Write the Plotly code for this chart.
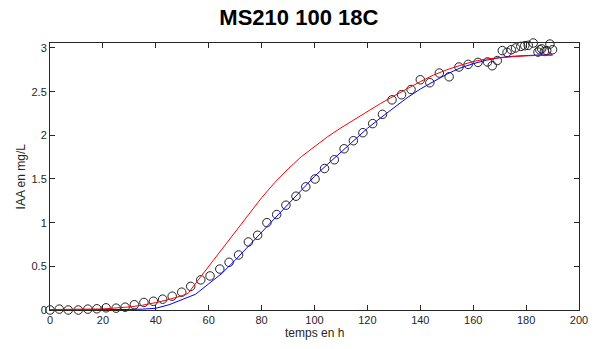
import plotly.graph_objects as go

# Measured data (time in h, IAA in mg/L)
t_data = [0, 3.5, 6.9, 10.7, 14.3, 17.7, 21.2, 25, 28.4, 31.9, 35.5, 39.1, 42.6, 46.2,
          49.8, 53.2, 57, 60.5, 64.2, 67.7, 71.3, 75, 78.5, 82, 85.7, 89.2, 93, 96.7,
          100.2, 103.8, 107.5, 111.2, 114.7, 118.3, 122, 125.7, 129.3, 132.9, 136.5,
          140, 143.6, 147.2, 150.9, 154.6, 158.1, 161.8, 165.4, 167.2, 169.1, 171,
          172.8, 174.4, 176, 178, 179.5, 180.8, 182.7, 184.5, 185.2, 185.9, 186.9,
          187.8, 189, 190]
v_data = [0, 0.01, 0, 0, 0.01, 0.014, 0.025, 0.021, 0.032, 0.06, 0.086, 0.10, 0.124,
          0.158, 0.204, 0.27, 0.345, 0.39, 0.469, 0.546, 0.63, 0.779, 0.856, 1.0, 1.093,
          1.2, 1.303, 1.41, 1.5, 1.62, 1.72, 1.846, 1.938, 2.03, 2.134, 2.24, 2.406,
          2.465, 2.525, 2.636, 2.602, 2.713, 2.67, 2.782, 2.812, 2.835, 2.84, 2.797,
          2.856, 2.97, 2.95, 2.98, 3.0, 3.018, 3.026, 3.03, 3.057, 2.953, 2.98, 2.99,
          2.96, 2.97, 3.045, 2.98]

# Model 1 (red)
t_red = [0, 10, 20, 30, 35, 40, 45, 50, 52.2, 56.7, 60, 65, 70, 75, 80, 85, 90, 95,
         100, 105, 110, 115, 120, 125, 130, 135, 140, 145, 150, 155, 160, 165, 170,
         175, 180, 185, 190]
v_red = [0.005, 0.006, 0.012, 0.035, 0.055, 0.085, 0.12, 0.165, 0.19, 0.37, 0.50,
         0.70, 0.89, 1.09, 1.285, 1.46, 1.615, 1.755, 1.875, 1.985, 2.085, 2.18, 2.275,
         2.365, 2.45, 2.535, 2.615, 2.69, 2.75, 2.80, 2.845, 2.875, 2.89, 2.90, 2.91,
         2.915, 2.92]

# Model 2 (blue)
t_blue = [0, 10, 20, 30, 35, 40, 45, 50, 55, 60, 65, 70, 75, 80, 85, 90, 95, 100, 105,
          110, 115, 120, 125, 130, 135, 140, 145, 150, 155, 160, 165, 170, 175, 180,
          185, 190]
v_blue = [0, 0, 0.002, 0.006, 0.01, 0.02, 0.06, 0.12, 0.18, 0.30, 0.42, 0.57, 0.73,
          0.90, 1.06, 1.22, 1.38, 1.53, 1.67, 1.81, 1.95, 2.08, 2.20, 2.32, 2.43, 2.53,
          2.62, 2.70, 2.77, 2.82, 2.86, 2.89, 2.905, 2.915, 2.92, 2.92]

x_ticks = [0, 20, 40, 60, 80, 100, 120, 140, 160, 180, 200]
y_ticks = [0, 0.5, 1, 1.5, 2, 2.5, 3]
y_tick_text = ["0", "0.5", "1", "1.5", "2", "2.5", "3"]

fig = go.Figure()
fig.add_trace(go.Scatter(x=t_data, y=v_data, mode="markers",
                         marker=dict(symbol="circle-open", size=8.5, color="#222222",
                                     line=dict(width=1, color="#222222")),
                         cliponaxis=False, showlegend=False))
fig.add_trace(go.Scatter(x=t_blue, y=v_blue, mode="lines",
                         line=dict(color="#0000ff", width=1), showlegend=False))
fig.add_trace(go.Scatter(x=t_red, y=v_red, mode="lines",
                         line=dict(color="#ff0000", width=1), showlegend=False))

axis_color = "#262626"
fig.update_layout(
    width=605, height=349,
    margin=dict(l=50, r=26, t=43, b=39, autoexpand=False),
    paper_bgcolor="white", plot_bgcolor="white",
    font=dict(family="Liberation Sans, Arial, sans-serif", size=11, color=axis_color),
    title=dict(text="<b>MS210 100 18C</b>", x=0.494, xanchor="center",
               y=1 - 10 / 349, yanchor="top",
               font=dict(size=22, color="#000000")),
    annotations=[
        dict(text="temps en h", xref="paper", yref="paper", x=0.5, y=-0.088,
             xanchor="center", yanchor="middle", showarrow=False,
             font=dict(size=12, color=axis_color)),
        dict(text="IAA en mg/L", xref="paper", yref="paper", x=-0.055, y=0.5,
             xanchor="center", yanchor="middle", showarrow=False, textangle=-90,
             font=dict(size=12, color=axis_color)),
    ],
)
fig.update_xaxes(range=[0, 200], tickvals=x_ticks, showgrid=False, zeroline=False,
                 showline=True, linecolor=axis_color, linewidth=1, mirror="ticks",
                 ticks="inside", ticklen=5, tickcolor=axis_color, automargin=False,
                 tickfont=dict(size=11))
fig.update_yaxes(range=[0, 3.057], tickvals=y_ticks, ticktext=y_tick_text, showgrid=False,
                 zeroline=False, showline=True, linecolor=axis_color, linewidth=1,
                 mirror="ticks", ticks="inside", ticklen=5, tickcolor=axis_color,
                 automargin=False, tickfont=dict(size=11))

fig.write_html("out.html", config={"displayModeBar": False},
               post_script="document.body.style.margin='0';")
